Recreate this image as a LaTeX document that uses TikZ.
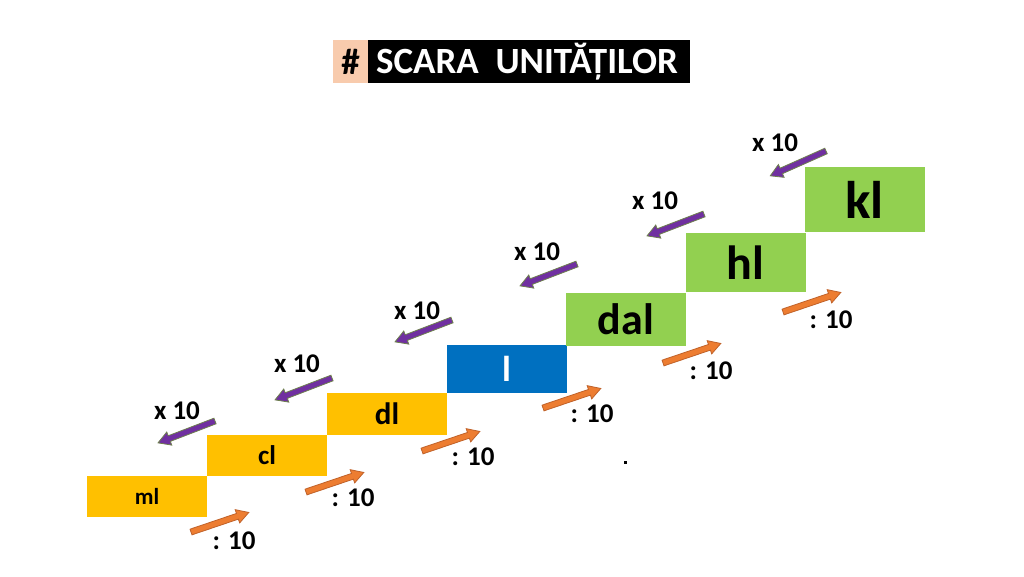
\documentclass[tikz,border=0pt]{standalone}
\usepackage{fontspec}
\setmainfont{Carlito}
\usetikzlibrary{positioning}
\definecolor{ylw}{HTML}{FFC000}
\definecolor{blu}{HTML}{0070C0}
\definecolor{grn}{HTML}{92D050}
\definecolor{org}{HTML}{ED7D31}
\definecolor{orgedge}{HTML}{C0622A}
\definecolor{pur}{HTML}{7030A0}
\definecolor{puredge}{HTML}{6E7F4E}
\definecolor{peach}{HTML}{F8CBAD}
\newcommand{\fs}[1]{\fontsize{#1}{#1}\selectfont\bfseries}
\tikzset{
  stepbox/.style={rectangle, inner sep=0pt, minimum width=120pt, anchor=center},
  barrow/.pic={\draw[pic actions, line width=0.8pt, line join=miter]
     (0,-3)--(49,-3)--(49,-7)--(61,0)--(49,7)--(49,3)--(0,3)--cycle;},
  uparrow/.style={fill=org, draw=orgedge, rotate=18.7},
  downarrow/.style={fill=pur, draw=puredge, rotate=201},
  lbl/.style={font=\fs{27}, inner sep=0pt}
}
\begin{document}
\begin{tikzpicture}[x=1pt,y=-1pt]
\useasboundingbox[fill=white] (0,0) rectangle (1024,576);
% title
\fill[peach] (333,40) rectangle (368,83);
\fill[black] (368,40) rectangle (690,83);
\node[font=\fs{37}, inner sep=0pt] (hash) at (350.5,62) {\#};
\node[font=\fs{37}, text=white, inner sep=0pt] (title) at (527,62) {SCARA\ \ UNITĂȚILOR};
% steps
\node[stepbox, fill=ylw, minimum height=41pt, font=\fs{23}] (ml) at (147,496.5) {ml};
\node[stepbox, fill=ylw, minimum height=41pt, font=\fs{27}] (cl) at (267,455.5) {cl};
\node[stepbox, fill=ylw, minimum height=42pt, font=\fs{31}] (dl) at (387,414) {dl};
\node[stepbox, fill=blu, minimum height=48pt, text=white, font=\fs{36}] (l) at (506.5,369) {l};
\node[stepbox, fill=grn, minimum height=53pt, font=\fs{44}] (dal) at (626,319) {dal};
\node[stepbox, fill=grn, minimum height=59pt, font=\fs{48}] (hl) at (745.5,262.5) {hl};
\node[stepbox, fill=grn, minimum height=65pt, font=\fs{53}] (kl) at (864.5,199.5) {kl};
% orange arrows (division)
\pic[uparrow] at (191,532) {barrow};
\pic[uparrow] at (306,492) {barrow};
\pic[uparrow] at (422,451) {barrow};
\pic[uparrow] at (543,408) {barrow};
\pic[uparrow] at (663,363) {barrow};
\pic[uparrow] at (783,312) {barrow};
\node[lbl] (d1) at (234,541) {: 10};
\node[lbl] (d2) at (353,498) {: 10};
\node[lbl] (d3) at (473,457) {: 10};
\node[lbl] (d4) at (592,414) {: 10};
\node[lbl] (d5) at (711,371) {: 10};
\node[lbl] (d6) at (831,320) {: 10};
% purple arrows (multiplication)
\pic[downarrow] at (215,421) {barrow};
\pic[downarrow] at (332,378) {barrow};
\pic[downarrow] at (452,320) {barrow};
\pic[downarrow] at (577,264) {barrow};
\pic[downarrow] at (704,214) {barrow};
\pic[downarrow, rotate=3] at (826,151) {barrow};
\node[lbl] (m1) at (177,411) {x 10};
\node[lbl] (m2) at (297,364) {x 10};
\node[lbl] (m3) at (417,311) {x 10};
\node[lbl] (m4) at (537,252) {x 10};
\node[lbl] (m5) at (655,201) {x 10};
\node[lbl] (m6) at (775,143) {x 10};
% stray dot
\fill[black] (623.5,460.5) rectangle (626.5,463.5);
\end{tikzpicture}
\end{document}
